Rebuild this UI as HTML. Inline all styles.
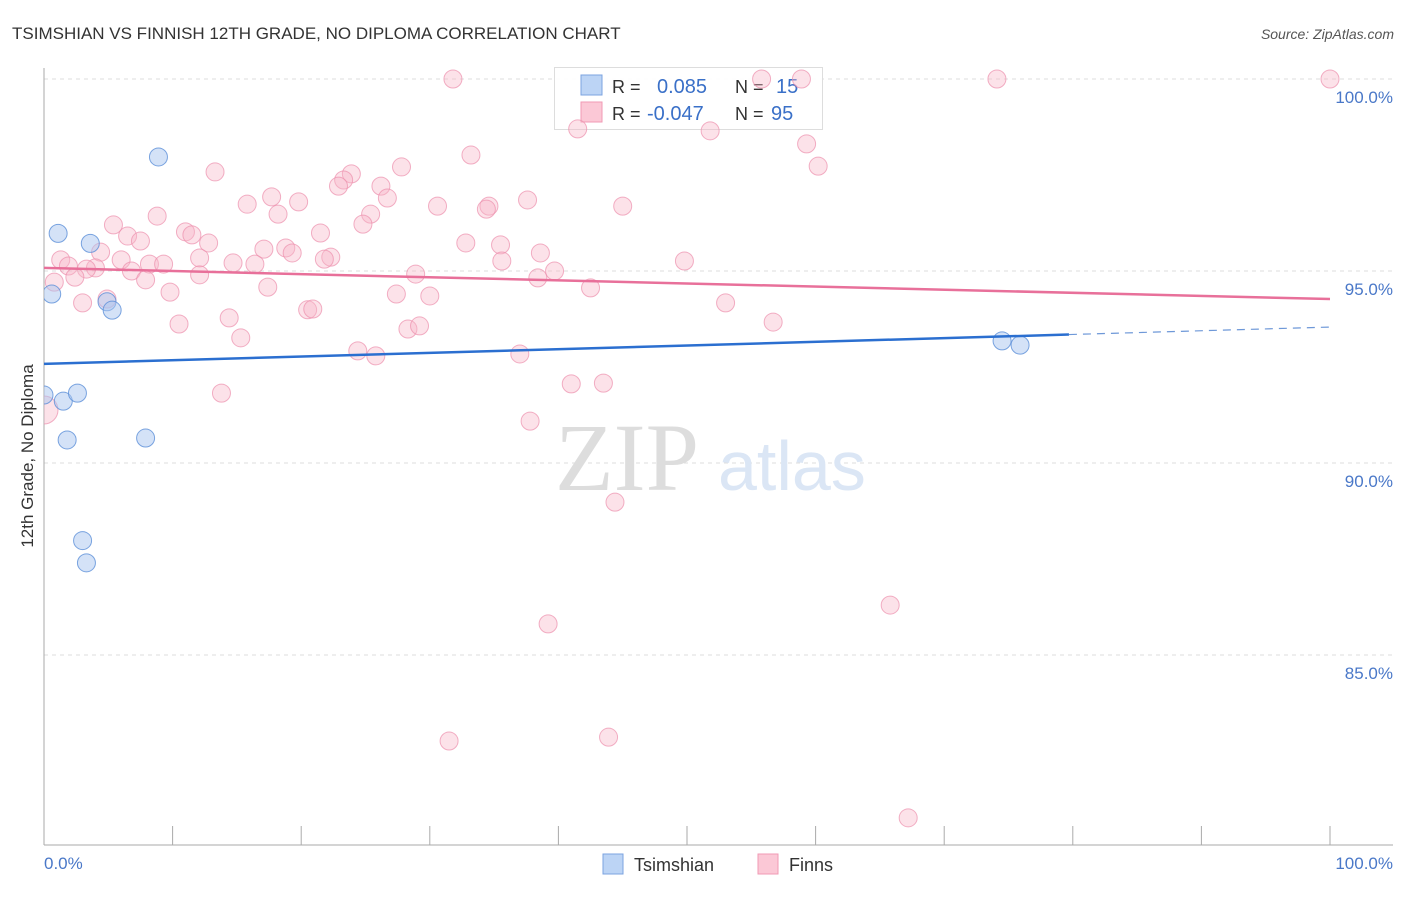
<!DOCTYPE html>
<html><head><meta charset="utf-8"><style>
body{margin:0;background:#fff;font-family:"Liberation Sans",sans-serif}
svg text{font-family:"Liberation Sans",sans-serif}
</style></head><body>
<svg width="1406" height="892" xmlns="http://www.w3.org/2000/svg">
<defs><clipPath id="plotclip"><rect x="44" y="60" width="1362" height="785"/></clipPath></defs>
<text x="12" y="39" font-size="17" fill="#333">TSIMSHIAN VS FINNISH 12TH GRADE, NO DIPLOMA CORRELATION CHART</text>
<text x="1394" y="39" font-size="14" fill="#555" font-style="italic" text-anchor="end">Source: ZipAtlas.com</text>
<g id="grid"></g>
<text x="555" y="490" font-size="96" fill="#ddd" style="font-family:'Liberation Serif',serif">ZIP</text>
<text x="718" y="490" font-size="70" fill="#dbe6f5">atlas</text>
<line x1="44" y1="68" x2="44" y2="845" stroke="#aaa"/>
<line x1="44" y1="845" x2="1393" y2="845" stroke="#aaa"/>
<g id="ticks"></g>
<g id="ylabels"></g>
<text x="44" y="869" font-size="17" fill="#4a78c8">0.0%</text>
<text x="1393" y="869" font-size="17" fill="#4a78c8" text-anchor="end">100.0%</text>
<text transform="translate(33,456) rotate(-90)" font-size="17" fill="#333" text-anchor="middle">12th Grade, No Diploma</text>
<g>
<rect x="554.5" y="67.5" width="268" height="62" fill="#fff" fill-opacity="0.9" stroke="#ddd"/>
<rect x="581" y="75" width="21" height="20" fill="#bcd4f5" stroke="#7ba3e0"/>
<rect x="581" y="102" width="21" height="20" fill="#fbc8d6" stroke="#f09ab4"/>
<text x="612" y="93" font-size="18" fill="#333">R = </text><text x="657" y="93" font-size="20" fill="#3a70c8">0.085</text>
<text x="735" y="93" font-size="18" fill="#333">N = </text><text x="776" y="93" font-size="20" fill="#3a70c8">15</text>
<text x="612" y="120" font-size="18" fill="#333">R = </text><text x="647" y="120" font-size="20" fill="#3a70c8">-0.047</text>
<text x="735" y="120" font-size="18" fill="#333">N = </text><text x="771" y="120" font-size="20" fill="#3a70c8">95</text>
</g>
<g id="pts" clip-path="url(#plotclip)"></g>
<g id="trends"></g>
<g>
<rect x="603" y="854" width="20" height="20" fill="#bcd4f5" stroke="#7ba3e0"/>
<text x="634" y="871" font-size="18" fill="#333">Tsimshian</text>
<rect x="758" y="854" width="20" height="20" fill="#fbc8d6" stroke="#f09ab4"/>
<text x="789" y="871" font-size="18" fill="#333">Finns</text>
</g>
</svg>
<script>
const blueX=[0,0.6,1.1,1.5,1.8,2.6,3.0,3.3,3.6,4.9,5.3,7.9,8.9,74.5,75.9];
const blueY=[91.77,94.4,95.98,91.61,90.6,91.82,87.98,87.4,95.72,94.2,93.98,90.65,97.97,93.18,93.07];
const pinkX=[31.8,55.8,58.9,74.1,100,41.5,51.8,59.3,33.2,60.2,13.3,27.8,23.9,23.3,22.9,26.2,17.7,26.7,19.8,15.8,37.6,30.6,34.6,34.4,45.0,8.8,18.2,25.4,24.8,5.4,6.5,11.0,11.5,21.5,7.5,12.8,32.8,35.5,38.6,17.1,18.8,19.3,4.4,1.3,6.0,12.1,22.3,21.8,35.6,49.8,14.7,16.4,4.0,1.9,3.3,8.2,9.3,6.8,39.7,28.9,38.4,7.9,2.4,0.8,12.1,3.0,4.9,17.4,42.5,9.8,27.4,30.0,53.0,20.5,20.9,14.4,10.5,56.7,28.3,29.2,15.3,24.4,25.8,37.0,41.0,43.5,13.8,37.8,0,44.4,65.8,39.2,31.5,43.9,67.2];
const pinkY=[100,100,100,100,100,98.70,98.65,98.31,98.02,97.73,97.58,97.71,97.53,97.37,97.21,97.21,96.93,96.90,96.80,96.74,96.85,96.69,96.69,96.61,96.69,96.43,96.48,96.48,96.22,96.20,95.91,96.02,95.94,95.99,95.78,95.73,95.73,95.68,95.47,95.57,95.60,95.47,95.49,95.29,95.29,95.34,95.36,95.31,95.26,95.26,95.21,95.18,95.08,95.13,95.05,95.18,95.18,95.00,95.00,94.92,94.82,94.77,94.84,94.71,94.90,94.17,94.27,94.58,94.56,94.45,94.40,94.35,94.17,93.99,94.01,93.78,93.62,93.67,93.49,93.57,93.26,92.92,92.79,92.84,92.06,92.08,91.82,91.09,91.38,88.98,86.30,85.81,82.76,82.86,80.76];
const yTicks=[100,95,90,85];
const yTickLabels=["100.0%","95.0%","90.0%","85.0%"];
const blueTrend=[92.58,93.54], blueSolidEnd=79.7;
const pinkTrend=[95.08,94.27];
const NS="http://www.w3.org/2000/svg";
const sx=v=>44+v*12.86, sy=v=>79+(100-v)*38.4;
function mk(t,a,p){const e=document.createElementNS(NS,t);for(const k in a)e.setAttribute(k,a[k]);document.getElementById(p).appendChild(e);return e;}
yTicks.forEach((t,i)=>{
 const l=mk('line',{x1:44,x2:1393,y1:sy(t),y2:sy(t),stroke:'#ddd','stroke-dasharray':'4 4'},'grid');
 
 
 const tx=mk('text',{x:1393,y:sy(t)+24,'font-size':17,fill:'#4a78c8','text-anchor':'end'},'ylabels');
 tx.textContent=yTickLabels[i];
 
 
});
for(let i=0;i<=10;i++){const l=mk('line',{x1:sx(i*10),x2:sx(i*10),y1:826,y2:845,stroke:'#aaa'},'ticks');
 
 }
pinkX.forEach((x,i)=>{const c=mk('circle',{cx:sx(x),cy:sy(pinkY[i]),r:(x===0?14:9),fill:'#f7b6c9','fill-opacity':0.4,stroke:'#ec8fac','stroke-opacity':0.7},'pts');
 
 });
blueX.forEach((x,i)=>{const c=mk('circle',{cx:sx(x),cy:sy(blueY[i]),r:9,fill:'#a9c6f0','fill-opacity':0.5,stroke:'#5b8fd8','stroke-opacity':0.8},'pts');
 
 });
const bAt=v=>blueTrend[0]+(blueTrend[1]-blueTrend[0])*v/100;
let l=mk('line',{x1:sx(0),y1:sy(bAt(0)),x2:sx(blueSolidEnd),y2:sy(bAt(blueSolidEnd)),stroke:'#2b6fd0','stroke-width':2.5},'trends');


l=mk('line',{x1:sx(blueSolidEnd),y1:sy(bAt(blueSolidEnd)),x2:sx(100),y2:sy(bAt(100)),stroke:'#6e98d8','stroke-width':1.2,'stroke-dasharray':'8 6'},'trends');


l=mk('line',{x1:sx(0),y1:sy(pinkTrend[0]),x2:sx(100),y2:sy(pinkTrend[1]),stroke:'#e8709a','stroke-width':2.5},'trends');


</script>
</body></html>
